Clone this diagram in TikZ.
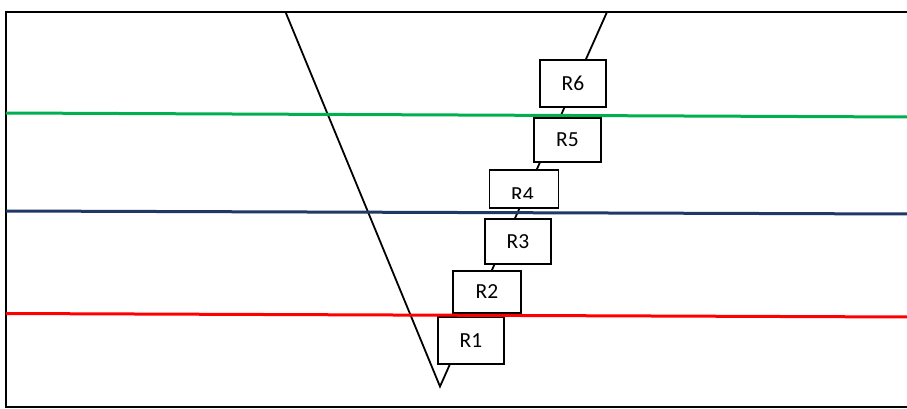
\documentclass[tikz,border=0pt]{standalone}
\usepackage{fontspec}
\setmainfont{Carlito}
\definecolor{lvgreen}{HTML}{00B050}
\definecolor{lvblue}{HTML}{1F3864}
\definecolor{lvred}{HTML}{FF0000}
\tikzset{
  frameline/.style={line width=1.8pt, black},
  wellline/.style={line width=1.8pt, black},
  levelline/.style={line width=3pt},
  rbox/.style={draw, line width=1.8pt, fill=white, inner sep=0pt,
    font=\fontsize{21.5}{24}\selectfont},
  rlabel/.style={inner sep=0pt, font=\fontsize{21.5}{24}\selectfont}
}
\begin{document}
\begin{tikzpicture}[x=1pt,y=-1pt]
  \clip (0,0) rectangle (907,409);
  \fill[white] (0,0) rectangle (907,409);

  % outer frame (right side runs off the page)
  \draw[frameline] (915,12) -- (6,12) -- (6,407) -- (915,407);

  % V-shaped trace
  \coordinate (tl) at (285.5,12);
  \coordinate (vb) at (440,386.5);
  \coordinate (tr) at (607,12);
  \draw[wellline] (tl) -- (vb) -- (tr);

  % boxes along the right branch
  \node[rbox, minimum width=66pt, minimum height=47pt] (R1) at (471,340.5) {R1};
  \node[rbox, minimum width=68pt, minimum height=42pt] (R2) at (487,292) {R2};
  \node[rbox, minimum width=66pt, minimum height=45pt] (R3) at (518,241.5) {R3};
  \node[rbox, minimum width=69pt, minimum height=38.6pt] (R4) at (524,189) {};
  \begin{scope}
    \clip (490,170) rectangle (558,198.3);
    \node[rlabel] (R4label) at (522.5,194.7) {R4};
  \end{scope}
  \node[rbox, minimum width=67pt, minimum height=44pt] (R5) at (567.5,140) {R5};
  \node[rbox, minimum width=66pt, minimum height=47pt] (R6) at (573,83.5) {R6};

  % level lines
  \coordinate (gL) at (6,113);   \coordinate (gR) at (910,117);
  \coordinate (bL) at (6,211);   \coordinate (bR) at (910,214);
  \coordinate (rL) at (6,313.5); \coordinate (rR) at (910,317);
  \draw[levelline, lvgreen] (gL) -- (gR);
  \draw[levelline, lvblue] (bL) -- (bR);
  \draw[levelline, lvred] (rL) -- (rR);
\end{tikzpicture}
\end{document}
